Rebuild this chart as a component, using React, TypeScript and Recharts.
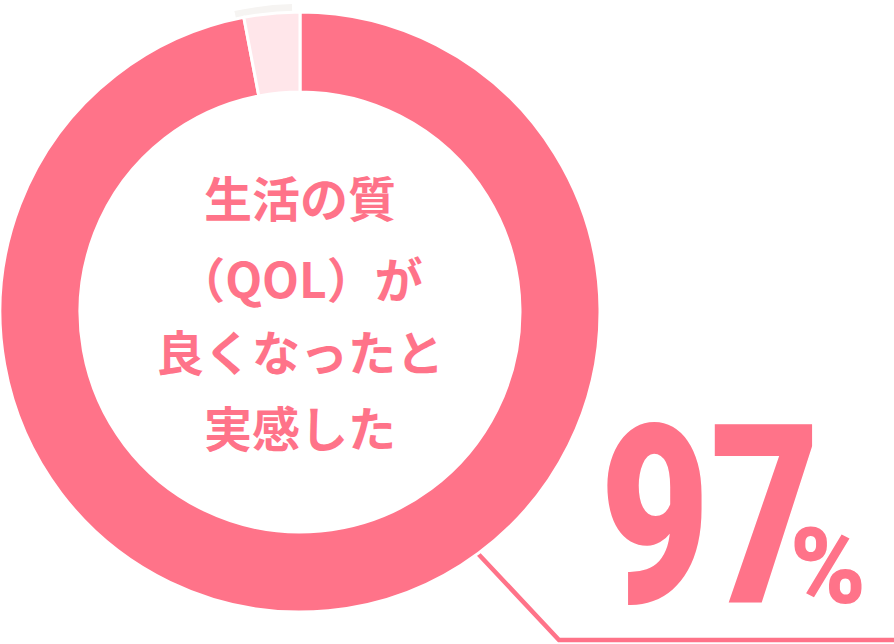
import React from "react";
import { PieChart, Pie, Cell, Customized } from "recharts";

const categories = ["良くなったと実感した", "その他"];
const values = [97, 3];
const centerLines = ["生活の質", "（QOL）が", "良くなったと", "実感した"];
const bigValue = "97";
const unit = "%";

const PINK = "#FF7389";
const LIGHT = "#FFE6EA";
const GRAY = "#F6F4F2";

const data = categories.map((name, i) => ({ name, value: values[i] }));

const CX = 300;
const CY = 312;
const OUTER = 300;
const INNER = 220;

const Overlay = () => {
  const lineY = [196, 277, 350, 426];
  return (
    <g>
      <polyline
        points={`468,543 559,640 894,640`}
        fill="none"
        stroke={PINK}
        strokeWidth={4.5}
      />
      {centerLines.map((t, i) => (
        <text
          key={i}
          x={CX}
          y={lineY[i]}
          textAnchor="middle"
          dominantBaseline="central"
          fill={PINK}
          fontFamily="'Noto Sans CJK JP', sans-serif"
          fontWeight={700}
          fontSize={48}
        >
          {t}
        </text>
      ))}
      <text
        x={600}
        y={603}
        fill={PINK}
        fontFamily="Roboto, sans-serif"
        fontWeight={900}
        fontSize={250}
        textLength={220}
        lengthAdjust="spacingAndGlyphs"
      >
        {bigValue}
      </text>
      <text
        x={790}
        y={603}
        fill={PINK}
        fontFamily="Roboto, sans-serif"
        fontWeight={900}
        fontSize={106}
        textLength={76}
        lengthAdjust="spacingAndGlyphs"
      >
        {unit}
      </text>
    </g>
  );
};

export default function App() {
  return (
    <div style={{ position: "absolute", left: 0, top: 0, width: 894, height: 644, background: "#fff" }}>
      <PieChart width={894} height={644} margin={{ top: 0, right: 0, bottom: 0, left: 0 }}>
        <Pie
          data={data}
          dataKey="value"
          cx={CX}
          cy={CY}
          outerRadius={OUTER + 8}
          innerRadius={INNER}
          startAngle={91.5}
          endAngle={-268.5}
          stroke="none"
          isAnimationActive={false}
        >
          {data.map((d, i) => (
            <Cell key={i} fill={i === 1 ? GRAY : "transparent"} />
          ))}
        </Pie>
        <Pie
          data={data}
          dataKey="value"
          cx={CX}
          cy={CY}
          outerRadius={OUTER}
          innerRadius={INNER}
          startAngle={90}
          endAngle={-270}
          stroke="#ffffff"
          strokeWidth={3}
          isAnimationActive={false}
        >
          {data.map((d, i) => (
            <Cell key={i} fill={i === 0 ? PINK : LIGHT} />
          ))}
        </Pie>
        <Customized component={Overlay} />
      </PieChart>
    </div>
  );
}
